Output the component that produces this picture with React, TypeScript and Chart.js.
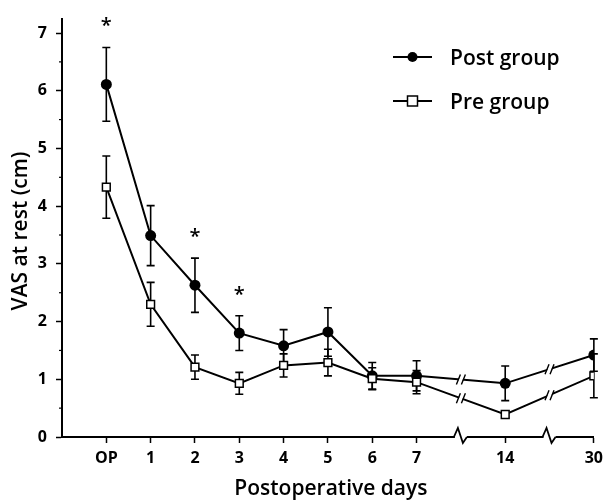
import React, { useEffect, useRef } from 'react';
import { Chart, registerables } from 'chart.js';

Chart.register(...registerables);

// ---- data ----
const categories = ['OP', '1', '2', '3', '4', '5', '6', '7', '14', '30'];
const xPositions = [0, 1, 2, 3, 4, 5, 6, 7, 9, 11];
const postMean = [6.11, 3.49, 2.63, 1.8, 1.58, 1.82, 1.06, 1.06, 0.93, 1.42];
const postErr = [0.64, 0.52, 0.47, 0.3, 0.28, 0.42, 0.23, 0.26, 0.3, 0.28];
const preMean = [4.33, 2.3, 1.21, 0.93, 1.24, 1.29, 1.01, 0.95, 0.39, 1.06];
const preErr = [0.54, 0.38, 0.21, 0.19, 0.2, 0.23, 0.19, 0.2, 0.06, 0.38];
const significant = [true, false, true, true, false, false, false, false, false, false];
const yTicks = [0, 1, 2, 3, 4, 5, 6, 7];
const axisBreaks = [8, 10];
const seriesNames = ['Post group', 'Pre group'];
const xTitle = 'Postoperative days';
const yTitle = 'VAS at rest (cm)';

const FONT = '"Open Sans", "DejaVu Sans", sans-serif';

const extrasPlugin = {
  id: 'extras',
  beforeDatasetsDraw(chart: any) {
    const { ctx, scales } = chart;
    const xs = scales.x;
    const ys = scales.y;
    ctx.save();
    ctx.strokeStyle = '#000';
    ctx.lineWidth = 1.6;
    const sets = [
      { m: postMean, e: postErr },
      { m: preMean, e: preErr },
    ];
    sets.forEach((s) => {
      s.m.forEach((v, i) => {
        const x = xs.getPixelForValue(xPositions[i]);
        const yt = ys.getPixelForValue(v + s.e[i]);
        const yb = ys.getPixelForValue(v - s.e[i]);
        ctx.beginPath();
        ctx.moveTo(x, yt);
        ctx.lineTo(x, yb);
        ctx.moveTo(x - 4, yt);
        ctx.lineTo(x + 4, yt);
        ctx.moveTo(x - 4, yb);
        ctx.lineTo(x + 4, yb);
        ctx.stroke();
      });
    });
    ctx.restore();
  },
  afterDatasetsDraw(chart: any) {
    const { ctx, scales } = chart;
    const xs = scales.x;
    const ys = scales.y;
    ctx.save();
    // break marks on the lines
    [postMean, preMean].forEach((means) => {
      axisBreaks.forEach((b) => {
        let k = 0;
        while (k < xPositions.length - 1 && xPositions[k + 1] < b) k++;
        const x1 = xs.getPixelForValue(xPositions[k]);
        const x2 = xs.getPixelForValue(xPositions[k + 1]);
        const y1 = ys.getPixelForValue(means[k]);
        const y2 = ys.getPixelForValue(means[k + 1]);
        const x = xs.getPixelForValue(b);
        const y = y1 + ((y2 - y1) * (x - x1)) / (x2 - x1);
        ctx.fillStyle = '#fff';
        ctx.beginPath();
        ctx.moveTo(x - 4, y + 5);
        ctx.lineTo(x + 0, y - 5);
        ctx.lineTo(x + 4, y - 5);
        ctx.lineTo(x + 0, y + 5);
        ctx.closePath();
        ctx.fill();
        ctx.strokeStyle = '#000';
        ctx.lineWidth = 1.4;
        ctx.beginPath();
        ctx.moveTo(x - 4.5, y + 5);
        ctx.lineTo(x - 0.5, y - 5);
        ctx.moveTo(x + 0.5, y + 5);
        ctx.lineTo(x + 4.5, y - 5);
        ctx.stroke();
      });
    });
    ctx.restore();
  },
  afterDraw(chart: any) {
    const { ctx, scales } = chart;
    const xs = scales.x;
    const ys = scales.y;
    ctx.save();
    // minor y ticks
    ctx.strokeStyle = '#000';
    ctx.lineWidth = 1.2;
    const ax = ys.right;
    for (let v = 0.5; v < 7.2; v += 1) {
      const y = ys.getPixelForValue(v);
      ctx.beginPath();
      ctx.moveTo(ax - 3, y);
      ctx.lineTo(ax, y);
      ctx.stroke();
    }
    // axis breaks (zigzag)
    const y0 = xs.top;
    axisBreaks.forEach((b) => {
      const x = xs.getPixelForValue(b);
      ctx.fillStyle = '#fff';
      ctx.fillRect(x - 6, y0 - 3, 12, 6);
      ctx.strokeStyle = '#000';
      ctx.lineWidth = 1.8;
      ctx.beginPath();
      ctx.moveTo(x - 7, y0);
      ctx.lineTo(x - 3, y0 - 9);
      ctx.lineTo(x + 2, y0 + 6);
      ctx.lineTo(x + 6, y0);
      ctx.stroke();
    });
    // significance stars
    ctx.fillStyle = '#000';
    ctx.font = `600 20px ${FONT}`;
    ctx.textAlign = 'center';
    ctx.textBaseline = 'alphabetic';
    significant.forEach((s, i) => {
      if (!s) return;
      const x = xs.getPixelForValue(xPositions[i]);
      const yt = ys.getPixelForValue(postMean[i] + postErr[i]);
      ctx.fillText('*', x, yt - 19 + 4);
    });
    // axis titles
    ctx.font = `600 21px ${FONT}`;
    ctx.textAlign = 'center';
    ctx.textBaseline = 'alphabetic';
    ctx.fillText(xTitle, (xs.left + xs.right) / 2 + 3, 495);
    ctx.save();
    ctx.translate(27, 231);
    ctx.rotate(-Math.PI / 2);
    ctx.fillText(yTitle, 0, 0);
    ctx.restore();
    // legend
    const lx = 393;
    const items = [
      { y: 57, name: seriesNames[0], circle: true },
      { y: 101, name: seriesNames[1], circle: false },
    ];
    items.forEach((it) => {
      ctx.strokeStyle = '#000';
      ctx.lineWidth = 2;
      ctx.beginPath();
      ctx.moveTo(lx, it.y);
      ctx.lineTo(lx + 39, it.y);
      ctx.stroke();
      if (it.circle) {
        ctx.fillStyle = '#000';
        ctx.beginPath();
        ctx.arc(lx + 19.5, it.y, 5, 0, Math.PI * 2);
        ctx.fill();
      } else {
        ctx.fillStyle = '#fff';
        ctx.fillRect(lx + 14.5, it.y - 5, 10, 10);
        ctx.lineWidth = 1.5;
        ctx.strokeRect(lx + 14.5, it.y - 5, 10, 10);
      }
      ctx.fillStyle = '#000';
      ctx.font = `600 21px ${FONT}`;
      ctx.textAlign = 'left';
      ctx.textBaseline = 'alphabetic';
      ctx.fillText(it.name, 450, it.y + 8);
    });
    ctx.restore();
  },
};

export default function App() {
  const ref = useRef<HTMLCanvasElement | null>(null);
  useEffect(() => {
    if (!ref.current) return;
    const chart = new Chart(ref.current, {
      type: 'line',
      data: {
        datasets: [
          {
            label: seriesNames[1],
            data: preMean.map((v, i) => ({ x: xPositions[i], y: v })),
            borderColor: '#000',
            borderWidth: 2,
            pointStyle: 'rect',
            pointRadius: 5.5,
            pointBackgroundColor: '#fff',
            pointBorderColor: '#000',
            pointBorderWidth: 1.5,
            tension: 0,
          },
          {
            label: seriesNames[0],
            data: postMean.map((v, i) => ({ x: xPositions[i], y: v })),
            borderColor: '#000',
            borderWidth: 2,
            pointStyle: 'circle',
            pointRadius: 5.5,
            pointBackgroundColor: '#000',
            pointBorderColor: '#000',
            pointBorderWidth: 0,
            tension: 0,
          },
        ],
      },
      options: {
        animation: false,
        responsive: true,
        maintainAspectRatio: false,
        layout: { padding: { top: 8, right: 11, left: 0, bottom: 0 } },
        plugins: { legend: { display: false }, tooltip: { enabled: false } },
        scales: {
          x: {
            type: 'linear',
            min: -1,
            max: 11,
            afterFit: (s: any) => {
              s.height = 67;
            },
            afterBuildTicks: (s: any) => {
              s.ticks = xPositions.map((v) => ({ value: v }));
            },
            grid: { drawOnChartArea: false, drawTicks: true, tickLength: 6, color: '#000', tickWidth: 1.5 },
            border: { display: true, color: '#000', width: 2 },
            ticks: {
              color: '#000',
              padding: 6,
              maxRotation: 0,
              autoSkip: false,
              font: { family: FONT, size: 16, weight: '700' },
              callback: (v: any) => {
                const i = xPositions.indexOf(Number(v));
                return i >= 0 ? categories[i] : '';
              },
            },
          },
          y: {
            min: 0,
            max: 7.25,
            afterFit: (s: any) => {
              s.width = 62;
            },
            afterBuildTicks: (s: any) => {
              s.ticks = yTicks.map((v) => ({ value: v }));
            },
            grid: { drawOnChartArea: false, drawTicks: true, tickLength: 6, color: '#000', tickWidth: 1.5 },
            border: { display: true, color: '#000', width: 2 },
            ticks: {
              color: '#000',
              padding: 9,
              font: { family: FONT, size: 16, weight: '700' },
            },
          },
        },
      },
      plugins: [extrasPlugin],
    });
    return () => chart.destroy();
  }, []);
  return (
    <div style={{ position: 'fixed', left: 0, top: 0, width: 609, height: 504, background: '#fff' }}>
      <canvas ref={ref} />
    </div>
  );
}
